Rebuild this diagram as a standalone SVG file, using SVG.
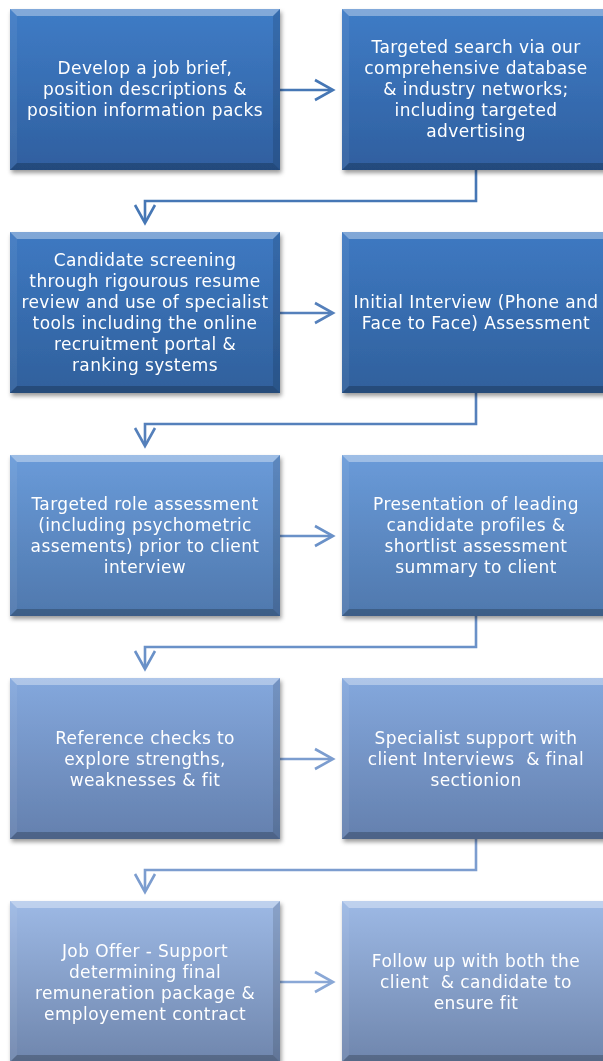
<svg xmlns="http://www.w3.org/2000/svg" xmlns:xlink="http://www.w3.org/1999/xlink" width="603" height="1061" viewBox="0 0 603 1061">
<style>
.t{font-family:"DejaVu Sans","Liberation Sans",sans-serif;font-size:17px;letter-spacing:0.4px;fill:#ffffff;text-anchor:middle;white-space:pre}
.c{fill:none;stroke-width:2.6;stroke-linecap:butt;stroke-linejoin:miter}
</style>
<defs>
<filter id="sh" x="-10%" y="-10%" width="125%" height="130%">
<feDropShadow dx="1.5" dy="3" stdDeviation="2" flood-color="#000" flood-opacity="0.4"/>
</filter>
<linearGradient id="g1" x1="0" y1="0" x2="0" y2="1"><stop offset="0" stop-color="#3f7cc6"/><stop offset="1" stop-color="#2f5f9f"/></linearGradient>
<linearGradient id="g2" x1="0" y1="0" x2="0" y2="1"><stop offset="0" stop-color="#3e79c2"/><stop offset="1" stop-color="#30609c"/></linearGradient>
<linearGradient id="g3" x1="0" y1="0" x2="0" y2="1"><stop offset="0" stop-color="#6a9bd9"/><stop offset="1" stop-color="#4f78ad"/></linearGradient>
<linearGradient id="g4" x1="0" y1="0" x2="0" y2="1"><stop offset="0" stop-color="#84a8dd"/><stop offset="1" stop-color="#6480ae"/></linearGradient>
<linearGradient id="g5" x1="0" y1="0" x2="0" y2="1"><stop offset="0" stop-color="#9db9e5"/><stop offset="1" stop-color="#6f86ad"/></linearGradient>
<g id="bev">
<polygon points="0,0 270,0 263,7 7,7" fill="#ffffff" fill-opacity="0.35"/>
<polygon points="0,0 7,7 7,154 0,161" fill="#ffffff" fill-opacity="0.06"/>
<polygon points="270,0 263,7 263,154 270,161" fill="#000000" fill-opacity="0.12"/>
<polygon points="0,161 7,154 263,154 270,161" fill="#000000" fill-opacity="0.22"/>
</g>
</defs>
<rect width="603" height="1061" fill="#ffffff"/>

<g id="connectors">
<g stroke="#4677b5" class="c"><path class="c" d="M280,90 H332"/><path class="c" d="M315,80 L333,90 L315,100"/><path class="c" d="M476,170 V201 H145 V222"/><path class="c" d="M135,205 L145,223 L155,205"/></g>
<g stroke="#5580bb" class="c"><path class="c" d="M280,313 H332"/><path class="c" d="M315,303 L333,313 L315,323"/><path class="c" d="M476,393 V424 H145 V445"/><path class="c" d="M135,428 L145,446 L155,428"/></g>
<g stroke="#6a91c8" class="c"><path class="c" d="M280,536 H332"/><path class="c" d="M315,526 L333,536 L315,546"/><path class="c" d="M476,616 V647 H145 V668"/><path class="c" d="M135,651 L145,669 L155,651"/></g>
<g stroke="#7c9dcf" class="c"><path class="c" d="M280,759 H332"/><path class="c" d="M315,749 L333,759 L315,769"/><path class="c" d="M476,839 V870 H145 V891"/><path class="c" d="M135,874 L145,892 L155,874"/></g>
<g stroke="#8aa8d6" class="c"><path class="c" d="M280,982 H332"/><path class="c" d="M315,972 L333,982 L315,992"/></g>
</g>

<g id="n1" filter="url(#sh)"><rect x="10" y="9" width="270" height="161" fill="url(#g1)"/><use xlink:href="#bev" x="10" y="9"/>
<text class="t"><tspan x="145" y="74">Develop a job brief,</tspan><tspan x="145" y="95">position descriptions &amp;</tspan><tspan x="145" y="116">position information packs</tspan></text></g>
<g id="n2" filter="url(#sh)"><rect x="342" y="9" width="270" height="161" fill="url(#g1)"/><use xlink:href="#bev" x="342" y="9"/>
<text class="t"><tspan x="476" y="53">Targeted search via our</tspan><tspan x="476" y="74">comprehensive database</tspan><tspan x="476" y="95">&amp; industry networks;</tspan><tspan x="476" y="116">including targeted</tspan><tspan x="476" y="137">advertising</tspan></text></g>

<g id="n3" filter="url(#sh)"><rect x="10" y="232" width="270" height="161" fill="url(#g2)"/><use xlink:href="#bev" x="10" y="232"/>
<text class="t"><tspan x="145" y="266">Candidate screening</tspan><tspan x="145" y="287">through rigourous resume</tspan><tspan x="145" y="308">review and use of specialist</tspan><tspan x="145" y="329">tools including the online</tspan><tspan x="145" y="350">recruitment portal &amp;</tspan><tspan x="145" y="371">ranking systems</tspan></text></g>
<g id="n4" filter="url(#sh)"><rect x="342" y="232" width="270" height="161" fill="url(#g2)"/><use xlink:href="#bev" x="342" y="232"/>
<text class="t"><tspan x="476" y="308">Initial Interview (Phone and</tspan><tspan x="476" y="329">Face to Face) Assessment</tspan></text></g>

<g id="n5" filter="url(#sh)"><rect x="10" y="455" width="270" height="161" fill="url(#g3)"/><use xlink:href="#bev" x="10" y="455"/>
<text class="t"><tspan x="145" y="510">Targeted role assessment</tspan><tspan x="145" y="531">(including psychometric</tspan><tspan x="145" y="552">assements) prior to client</tspan><tspan x="145" y="573">interview</tspan></text></g>
<g id="n6" filter="url(#sh)"><rect x="342" y="455" width="270" height="161" fill="url(#g3)"/><use xlink:href="#bev" x="342" y="455"/>
<text class="t"><tspan x="476" y="510">Presentation of leading</tspan><tspan x="476" y="531">candidate profiles &amp;</tspan><tspan x="476" y="552">shortlist assessment</tspan><tspan x="476" y="573">summary to client</tspan></text></g>

<g id="n7" filter="url(#sh)"><rect x="10" y="678" width="270" height="161" fill="url(#g4)"/><use xlink:href="#bev" x="10" y="678"/>
<text class="t"><tspan x="145" y="744">Reference checks to</tspan><tspan x="145" y="765">explore strengths,</tspan><tspan x="145" y="786">weaknesses &amp; fit</tspan></text></g>
<g id="n8" filter="url(#sh)"><rect x="342" y="678" width="270" height="161" fill="url(#g4)"/><use xlink:href="#bev" x="342" y="678"/>
<text class="t"><tspan x="476" y="744">Specialist support with</tspan><tspan x="476" y="765">client Interviews  &amp; final</tspan><tspan x="476" y="786">sectionion</tspan></text></g>

<g id="n9" filter="url(#sh)"><rect x="10" y="901" width="270" height="161" fill="url(#g5)"/><use xlink:href="#bev" x="10" y="901"/>
<text class="t"><tspan x="145" y="957">Job Offer - Support</tspan><tspan x="145" y="978">determining final</tspan><tspan x="145" y="999">remuneration package &amp;</tspan><tspan x="145" y="1020">employement contract</tspan></text></g>
<g id="n10" filter="url(#sh)"><rect x="342" y="901" width="270" height="161" fill="url(#g5)"/><use xlink:href="#bev" x="342" y="901"/>
<text class="t"><tspan x="476" y="967">Follow up with both the</tspan><tspan x="476" y="988">client  &amp; candidate to</tspan><tspan x="476" y="1009">ensure fit</tspan></text></g>
</svg>
